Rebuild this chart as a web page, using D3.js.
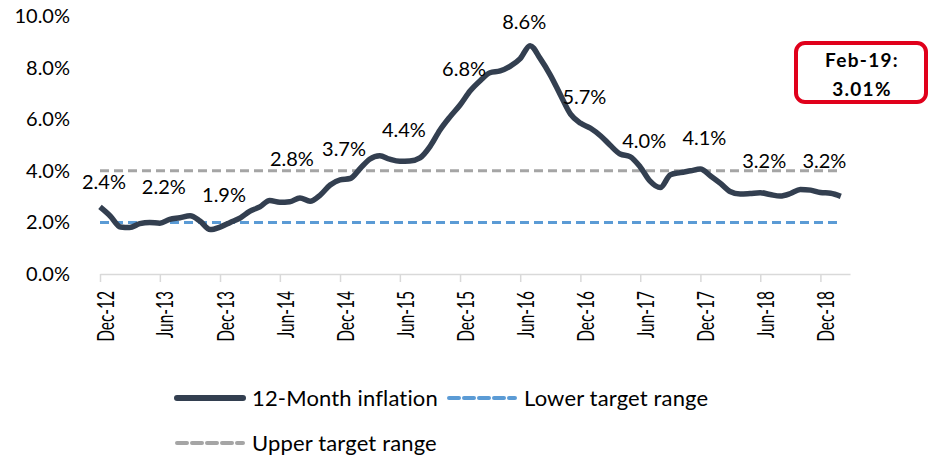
<!DOCTYPE html>
<html>
<head>
<meta charset="utf-8">
<script src="https://cdn.jsdelivr.net/npm/d3@7"></script>
<style>
  body { margin: 0; background: #fff; }
  svg { display: block; }
  svg text { font-family: Lato, "Liberation Sans", sans-serif; fill: #000; }
</style>
</head>
<body>
<div id="chart"></div>
<script>
// monthly 12-month inflation, Dec-12 .. Feb-19 (%)
const inflation = [
  2.60, 2.25, 1.82, 1.80, 1.95, 2.00, 1.97, 2.12, 2.18, 2.26,
  2.05, 1.72, 1.82, 2.00, 2.18, 2.43, 2.60, 2.85, 2.78, 2.80,
  2.95, 2.82, 3.05, 3.45, 3.65, 3.70, 4.10, 4.45, 4.58, 4.45,
  4.37, 4.38, 4.50, 4.95, 5.58, 6.10, 6.55, 7.10, 7.50, 7.80,
  7.87, 8.05, 8.35, 8.85, 8.35, 7.70, 6.95, 6.20, 5.85, 5.65,
  5.35, 5.00, 4.65, 4.55, 4.15, 3.60, 3.35, 3.85, 3.93, 4.00,
  4.07, 3.80, 3.50, 3.20, 3.10, 3.12, 3.15, 3.08, 3.02, 3.12,
  3.28, 3.25, 3.16, 3.13, 3.01
];
const lowerTarget = 2.0;
const upperTarget = 4.0;

const tickLabels = ["Dec-12", "Jun-13", "Dec-13", "Jun-14", "Dec-14", "Jun-15", "Dec-15",
  "Jun-16", "Dec-16", "Jun-17", "Dec-17", "Jun-18", "Dec-18"];
const pointLabels = [2.4, 2.2, 1.9, 2.8, 3.7, 4.4, 6.8, 8.6, 5.7, 4.0, 4.1, 3.2, 3.2];
const yTicks = [0, 2, 4, 6, 8, 10];
const callout = ["Feb-19:", "3.01%"];

const parseMonth = d3.timeParse("%b-%y");
const startMonth = parseMonth("Dec-12");
const dates = inflation.map((v, i) => d3.timeMonth.offset(startMonth, i));
const pct = d => d3.format(".1f")(d) + "%";

const width = 929, height = 456;
const svg = d3.select("#chart").append("svg")
  .attr("width", width)
  .attr("height", height);

const x = d3.scaleTime()
  .domain([startMonth, d3.timeMonth.offset(startMonth, inflation.length)])
  .range([100, 850]);
const y = d3.scaleLinear().domain([0, 10]).range([274, 16]);

// y axis, labels only
const yAxis = svg.append("g")
  .attr("transform", "translate(70,0)")
  .call(d3.axisLeft(y).tickValues(yTicks).tickFormat(pct).tickSize(0).tickPadding(0));
yAxis.attr("font-family", null);
yAxis.select(".domain").remove();
yAxis.selectAll("text").attr("font-size", 20).attr("fill", "#000");

// x axis
const xAxis = svg.append("g")
  .attr("transform", "translate(0,274)")
  .call(d3.axisBottom(x)
    .tickValues(tickLabels.map(parseMonth))
    .tickFormat(d3.timeFormat("%b-%y"))
    .tickSizeInner(8).tickSizeOuter(0));
xAxis.attr("font-family", null);
xAxis.select(".domain").attr("stroke", "#d9d9d9").attr("stroke-width", 1.5);
xAxis.selectAll(".tick line").attr("stroke", "#d9d9d9").attr("stroke-width", 1.5);
xAxis.selectAll("text")
  .attr("font-size", 15.5).attr("fill", "#000")
  .attr("transform", "translate(5,0) rotate(-90) scale(1,1.5)")
  .attr("text-anchor", "end")
  .attr("x", -17).attr("y", 0).attr("dy", "0.35em");

// target lines
const flat = v => d3.line().x(d => x(d)).y(() => y(v));
svg.append("path").datum(dates)
  .attr("d", flat(upperTarget))
  .attr("fill", "none").attr("stroke", "#a5a5a5").attr("stroke-width", 3)
  .attr("stroke-dasharray", "9,5");
svg.append("path").datum(dates)
  .attr("d", flat(lowerTarget))
  .attr("fill", "none").attr("stroke", "#5b9bd5").attr("stroke-width", 3)
  .attr("stroke-dasharray", "9,5");

// inflation line
const line = d3.line()
  .x((d, i) => x(dates[i]))
  .y(d => y(d))
  .curve(d3.curveMonotoneX);
svg.append("path").datum(inflation)
  .attr("d", line)
  .attr("fill", "none").attr("stroke", "#333f50").attr("stroke-width", 5.5)
  .attr("stroke-linejoin", "round");

// data labels every six months (the 2.8% one was dragged up a bit in the original)
svg.append("g").selectAll("text")
  .data(pointLabels)
  .join("text")
  .attr("x", (d, i) => x(parseMonth(tickLabels[i])) + 4 + (i === 3 ? 8 : 0))
  .attr("y", (d, i) => y(d) - 30 - (i === 3 ? 13 : 0))
  .attr("dy", "0.35em")
  .attr("text-anchor", "middle")
  .attr("font-size", 20)
  .text(pct);

// callout box
svg.append("rect")
  .attr("x", 796).attr("y", 43).attr("width", 130).attr("height", 59)
  .attr("rx", 9)
  .attr("fill", "#fff").attr("stroke", "#e0001b").attr("stroke-width", 4);
svg.append("g").selectAll("text")
  .data(callout)
  .join("text")
  .attr("x", 862)
  .attr("y", (d, i) => 60 + i * 29)
  .attr("dy", "0.35em")
  .attr("text-anchor", "middle")
  .attr("font-size", 19).attr("font-weight", "bold")
  .attr("letter-spacing", 1.3)
  .text(d => d);

// legend
const legend = [
  { name: "12-Month inflation", color: "#333f50", w: 6, dash: null, lx: 175, ly: 398 },
  { name: "Lower target range", color: "#5b9bd5", w: 4, dash: "10,5", lx: 447, ly: 398 },
  { name: "Upper target range", color: "#a5a5a5", w: 4, dash: "10,5", lx: 175, ly: 443 }
];
const lg = svg.append("g").selectAll("g").data(legend).join("g")
  .attr("transform", d => `translate(${d.lx},${d.ly})`);
lg.append("line")
  .attr("x1", 2).attr("x2", 68)
  .attr("stroke", d => d.color).attr("stroke-width", d => d.w)
  .attr("stroke-dasharray", d => d.dash)
  .attr("stroke-linecap", "round");
lg.append("text")
  .attr("x", 77)
  .attr("dy", "0.35em")
  .attr("font-size", 22)
  .attr("letter-spacing", 0.15)
  .text(d => d.name);
</script>
</body>
</html>
